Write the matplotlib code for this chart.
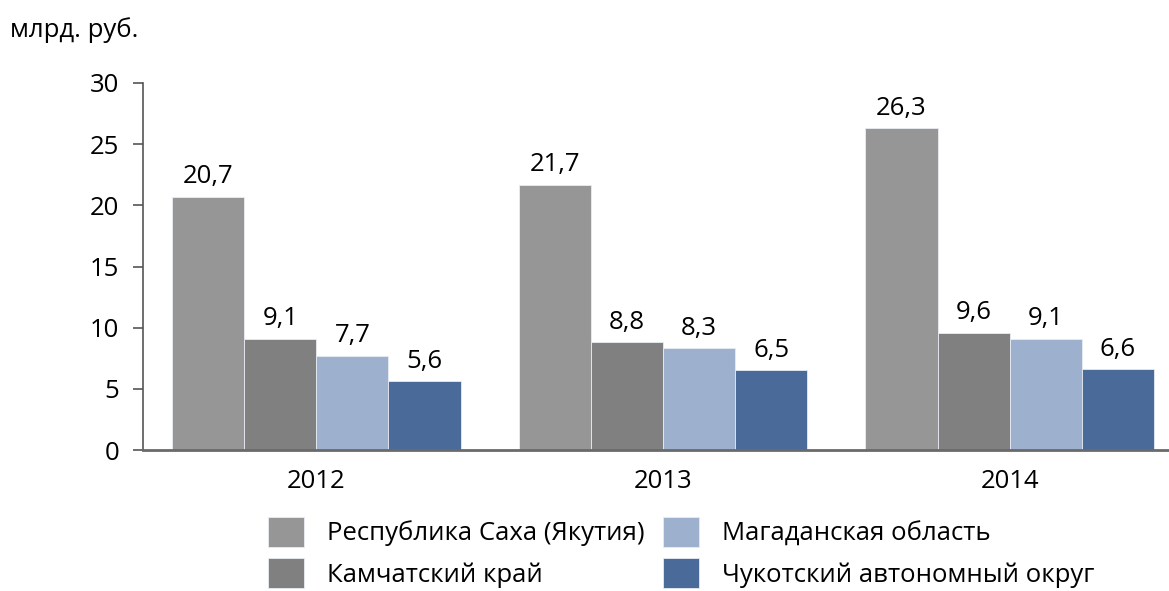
import numpy as np
import matplotlib.pyplot as plt

plt.rcParams['font.family'] = ['Open Sans', 'DejaVu Sans']

years = ['2012', '2013', '2014']
regions = ['Республика Саха (Якутия)', 'Камчатский край',
           'Магаданская область', 'Чукотский автономный округ']
sakha = [20.7, 21.7, 26.3]
kamchatka = [9.1, 8.8, 9.6]
magadan = [7.7, 8.3, 9.1]
chukotka = [5.6, 6.5, 6.6]
colors = ['#969696', '#808080', '#9db0ce', '#4a6a99']

series = [sakha, kamchatka, magadan, chukotka]
fs = 18.5

fig = plt.figure(figsize=(11.69, 5.91), dpi=100)
ax = fig.add_axes([143 / 1169, 141 / 591, 1040 / 1169, 367 / 591])

x = np.arange(len(years))
w = 0.208
bars = []
for i, (vals, col, name) in enumerate(zip(series, colors, regions)):
    b = ax.bar(x + (i - 1.5) * w, vals, w, color=col, label=name,
               edgecolor='#e8ecf2', linewidth=0.6)
    bars.append(b)
    for xi, v in zip(x + (i - 1.5) * w, vals):
        ax.text(xi, v + 0.6, f'{v:.1f}'.replace('.', ','), ha='center',
                va='bottom', fontsize=fs)

ax.set_xlim(-0.5, 2.5)
ax.set_ylim(0, 30)
ax.set_yticks(range(0, 31, 5))
ax.set_xticks(x)
ax.set_xticklabels(years)
ax.tick_params(axis='x', length=0, labelsize=fs, pad=14)
ax.tick_params(axis='y', length=7, width=1.2, color='#555555',
               labelsize=fs, pad=10, direction='out')
for s in ['top', 'right']:
    ax.spines[s].set_visible(False)
ax.spines['left'].set_color('#555555')
ax.spines['left'].set_linewidth(1.2)
ax.spines['bottom'].set_color('#6a6a6a')
ax.spines['bottom'].set_linewidth(2)

fig.text(10 / 1169, 1 - 30 / 591, 'млрд. руб.', fontsize=fs, va='center')

fig.legend(bars, regions, ncol=2, loc='upper left',
           bbox_to_anchor=(268 / 1169, 1 - 517 / 591), frameon=False,
           fontsize=fs, handlelength=1.4, handleheight=1.4,
           columnspacing=0.7, handletextpad=0.9, labelspacing=0.45,
           borderpad=0, borderaxespad=0)

fig.savefig('out.png', dpi=100)
